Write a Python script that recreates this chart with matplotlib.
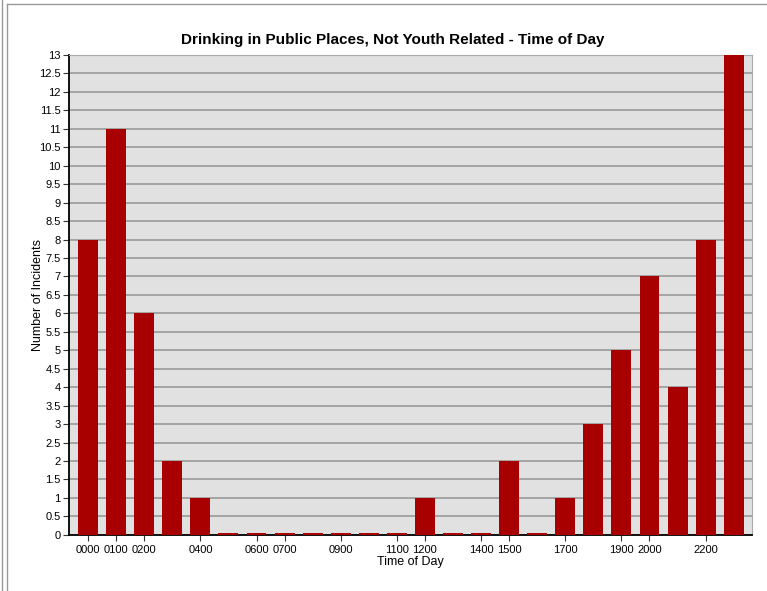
import numpy as np
import matplotlib.pyplot as plt
from matplotlib.lines import Line2D

plt.rcParams['font.family'] = ['Liberation Sans', 'DejaVu Sans']

# hourly incident counts
hours = ["0000", "0100", "0200", "0300", "0400", "0500", "0600", "0700",
         "0800", "0900", "1000", "1100", "1200", "1300", "1400", "1500",
         "1600", "1700", "1800", "1900", "2000", "2100", "2200", "2300"]
counts = [8, 11, 6, 2, 1, 0, 0, 0, 0, 0, 0, 0, 1, 0, 0, 2,
          0, 1, 3, 5, 7, 4, 8, 13]
# only some hours get a label on the axis
shown = ["0000", "0100", "0200", "0400", "0600", "0700", "0900", "1100",
         "1200", "1400", "1500", "1700", "1900", "2000", "2200"]

fig = plt.figure(figsize=(7.67, 5.91), dpi=100)
ax = fig.add_axes([0.090, 0.095, 0.890, 0.812])
ax.set_facecolor("#E1E1E1")

x = np.arange(len(hours))
ax.bar(x, counts, width=0.71, color="#A80000", zorder=3)
# empty hours still show a thin red line
zero = [i for i, c in enumerate(counts) if c == 0]
ax.bar(zero, [0.04] * len(zero), width=0.71, color="#A80000", zorder=3)

ax.set_xlim(-0.68, 23.64)
ax.set_ylim(0, 13)
ax.set_yticks(np.arange(0, 13.01, 0.5))
ax.set_yticklabels([f"{v:g}" for v in np.arange(0, 13.01, 0.5)])
ax.yaxis.grid(True, color="#999999", linewidth=1.2, zorder=0)

pos = [hours.index(h) for h in shown]
ax.set_xticks(pos)
ax.set_xticklabels(shown)
ax.tick_params(axis="both", labelsize=8, color="#333333", length=4, pad=2)
ax.tick_params(axis="x", length=4, pad=3)

for s in ["top", "right"]:
    ax.spines[s].set_color("#AAAAAA")
for s in ["left", "bottom"]:
    ax.spines[s].set_color("black")
    ax.spines[s].set_linewidth(1.3)

ax.set_title("Drinking in Public Places, Not Youth Related - Time of Day",
             fontsize=11, fontweight="bold", pad=8, x=0.474)
ax.set_xlabel("Time of Day", fontsize=9, labelpad=1)
ax.set_ylabel("Number of Incidents", fontsize=9)
ax.yaxis.set_label_coords(-0.037, 0.5)

# page frame lines
fig.add_artist(Line2D([2 / 767, 2 / 767], [0, 1], color="#999999", lw=1))
fig.add_artist(Line2D([7 / 767, 7 / 767], [0, 1 - 4 / 591], color="#999999", lw=1))
fig.add_artist(Line2D([7 / 767, 1], [1 - 4 / 591, 1 - 4 / 591], color="#999999", lw=1))

fig.savefig("out.png", dpi=100)
